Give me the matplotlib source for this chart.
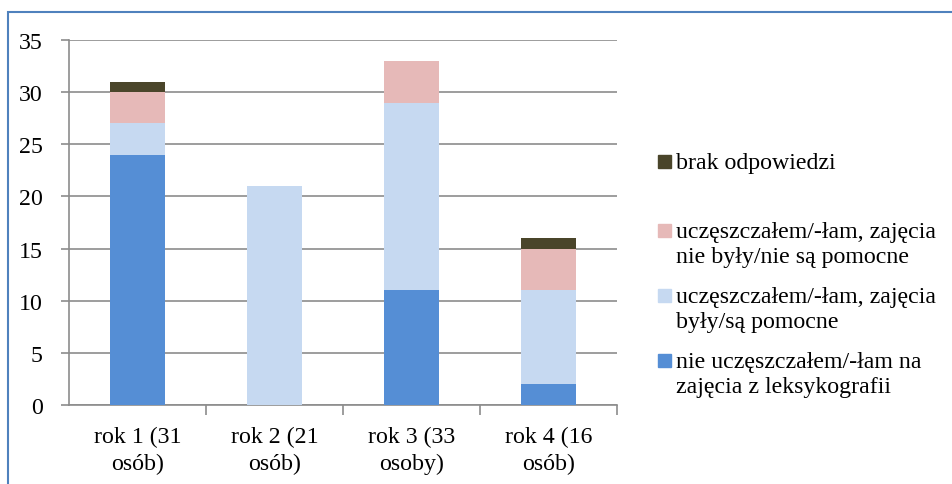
import numpy as np
import matplotlib
matplotlib.use('Agg')
from matplotlib import pyplot as plt
from matplotlib.patches import Rectangle

categories = ['rok 1 (31\nosób)', 'rok 2 (21\nosób)', 'rok 3 (33\nosoby)', 'rok 4 (16\nosób)']
nie_uczeszczal = [24, 0, 11, 2]
pomocne = [3, 21, 18, 9]
niepomocne = [3, 0, 4, 4]
brak = [1, 0, 0, 1]

series_labels = ['nie uczęszczałem/-łam na\nzajęcia z leksykografii',
                 'uczęszczałem/-łam, zajęcia\nbyły/są pomocne',
                 'uczęszczałem/-łam, zajęcia\nnie były/nie są pomocne',
                 'brak odpowiedzi']
colors = ['#558ED5', '#C6D9F1', '#E6B9B8', '#4A452A']

plt.rcParams['font.family'] = ['Liberation Serif', 'DejaVu Serif']
plt.rcParams['font.size'] = 17.2

fig = plt.figure(figsize=(9.52, 4.85), dpi=100)
ax = fig.add_axes([69 / 952, 1 - 406 / 485, 548 / 952, 365 / 485])

x = np.arange(len(categories))
bottom = np.zeros(len(categories))
for vals, col in zip([nie_uczeszczal, pomocne, niepomocne, brak], colors):
    ax.bar(x, vals, 0.4, bottom=bottom, color=col, zorder=3)
    bottom += np.array(vals)

ax.set_xlim(-0.5, len(categories) - 0.5)
ax.set_ylim(0, 35)
ax.set_yticks(range(0, 36, 5))
ax.yaxis.grid(True, color='#8c8c8c', linewidth=1.2, zorder=0)
for s in ['top', 'right']:
    ax.spines[s].set_visible(False)
for s in ['left', 'bottom']:
    ax.spines[s].set_color('#8c8c8c')
    ax.spines[s].set_linewidth(1.2)
ax.tick_params(axis='y', length=6, color='#8c8c8c', width=1.2, pad=13)
ax.set_xticks(x)
ax.set_xticklabels(categories, linespacing=1.35)
ax.tick_params(axis='x', length=0, pad=15)
ax.set_xticks(np.arange(0.5, len(categories) - 0.5 + 1, 1), minor=True)
ax.tick_params(axis='x', which='minor', length=7, color='#8c8c8c', width=1.2)

# legend, laid out by hand like the original
leg_y = [375, 310, 245, 163]
for lab, col, yy in zip(series_labels, colors, leg_y):
    top = yy - 13 if '\n' in lab else yy
    fig.patches.append(Rectangle((658 / 952, 1 - (top + 6) / 485), 13 / 952, 13 / 485,
                                 transform=fig.transFigure, color=col))
    fig.text(676 / 952, 1 - yy / 485, lab, va='center', ha='left', linespacing=1.25)

# outer frame
fig.patches.append(Rectangle((8 / 952, -0.1), 1.1, 1 - 13 / 485 + 0.1,
                             transform=fig.transFigure, fill=False,
                             edgecolor='#4F81BD', linewidth=1.5))

fig.savefig('out.png', dpi=100)
